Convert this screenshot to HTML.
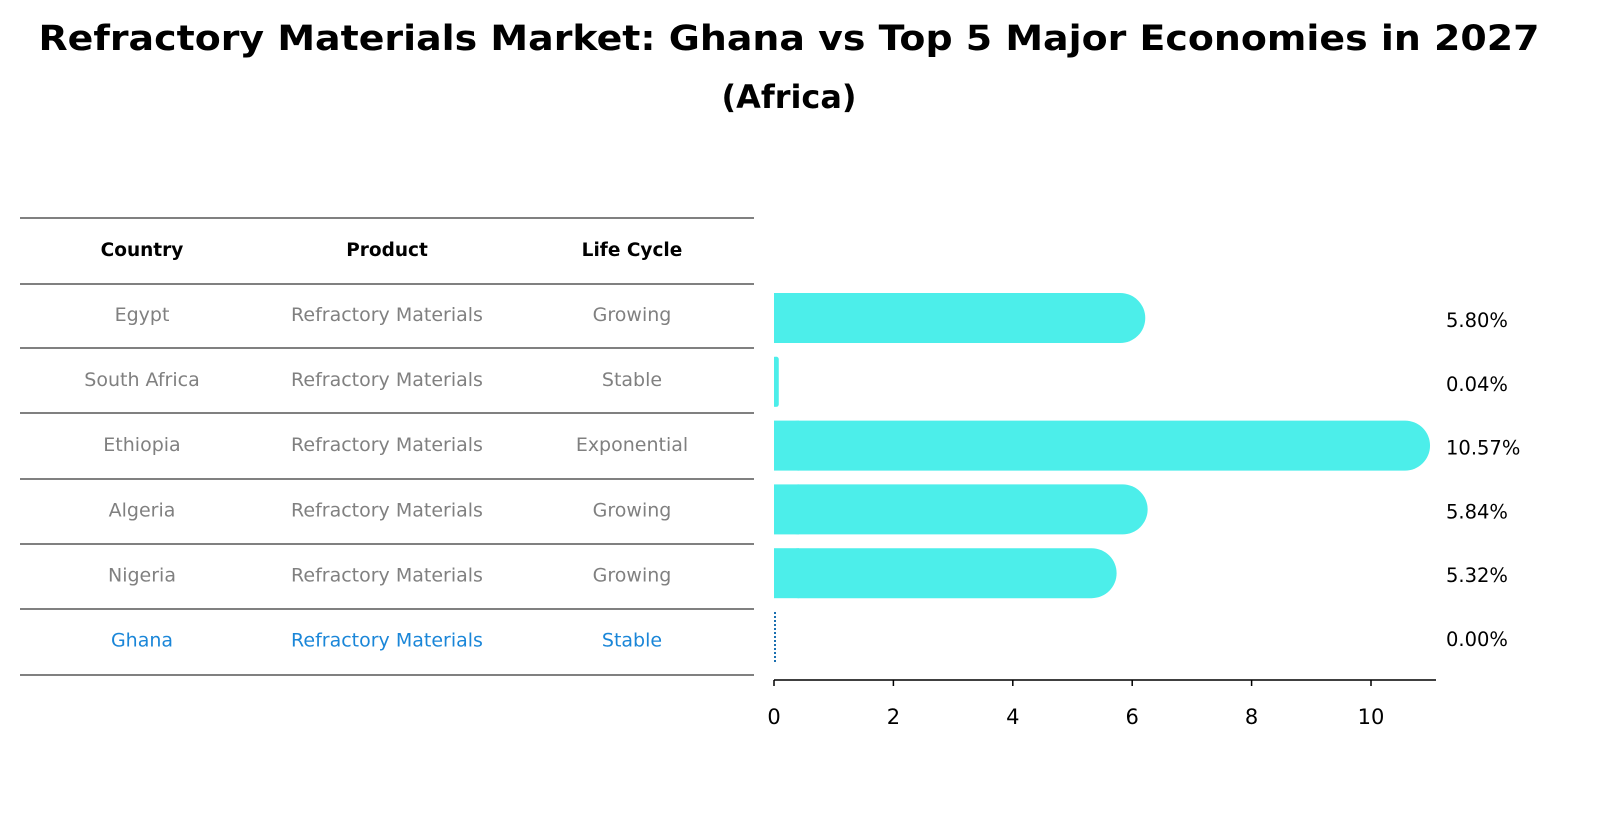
<!DOCTYPE html>
<html><head><meta charset="utf-8"><style>
body{margin:0;background:#fff;font-family:"Liberation Sans","DejaVu Sans",sans-serif;}
#wrap{position:relative;width:1604px;height:823px;overflow:hidden;}
</style></head><body>
<div id="wrap">
<svg id="svg" width="1604" height="823" xmlns="http://www.w3.org/2000/svg" font-family="DejaVu Sans, Liberation Sans, sans-serif">
<text x="789" y="50" text-anchor="middle" font-size="35" font-weight="bold" textLength="1501" lengthAdjust="spacingAndGlyphs">Refractory Materials Market: Ghana vs Top 5 Major Economies in 2027</text>
<text x="789" y="108" text-anchor="middle" font-size="32" font-weight="bold" textLength="135" lengthAdjust="spacingAndGlyphs">(Africa)</text>
<g id="table"></g>
<g id="bars"></g>
<g id="axis"></g>
</svg>
</div>
<script>
const countries=["Egypt","South Africa","Ethiopia","Algeria","Nigeria","Ghana"];
const products=["Refractory Materials","Refractory Materials","Refractory Materials","Refractory Materials","Refractory Materials","Refractory Materials"];
const lifeCycles=["Growing","Stable","Exponential","Growing","Growing","Stable"];
const values=[5.80,0.04,10.57,5.84,5.32,0.00];
const valueLabels=["5.80%","0.04%","10.57%","5.84%","5.32%","0.00%"];
const ticks=[0,2,4,6,8,10];

const NS="http://www.w3.org/2000/svg";
function mk(tag,attrs,parent,text){const e=document.createElementNS(NS,tag);for(const k in attrs)e.setAttribute(k,attrs[k]);if(text!==undefined)e.textContent=text;parent.appendChild(e);return e;}
const x=v=>774+v*59.7;
const rowY=i=>318+i*63.8;

const tbl=document.getElementById('table');
const lineYs=[218,284,348,413,479,544,609,675];
lineYs.forEach(y=>{const l=mk('line',{x1:20,x2:754,y1:y,y2:y,stroke:'#000','stroke-width':1},tbl);

});
const colX=[142,387,632];
["Country","Product","Life Cycle"].forEach((h,j)=>{const t=mk('text',{x:colX[j],y:256,'text-anchor':'middle','font-size':18.5,'font-weight':'bold'},tbl,h);

});
countries.forEach((c,i)=>{
  const y=321+i*65.1;const col=i===countries.length-1?'#1a86d8':'#808080';
  [c,products[i],lifeCycles[i]].forEach((v,j)=>{const t=mk('text',{x:colX[j],y:y,'text-anchor':'middle','font-size':19,fill:col},tbl,v);
  
  });
});

const bars=document.getElementById('bars');
values.forEach((v,i)=>{
  const cy=rowY(i);
  if(i===values.length-1){
    const l=mk('line',{x1:x(v)+1,x2:x(v)+1,y1:cy-25,y2:cy+25,stroke:'#1a6fb0','stroke-width':2,'stroke-dasharray':'2,2'},bars);
    
    
  } else {
    const w=(x(v)-x(0));const ext=Math.min(25,w);
    const r=mk('rect',{x:x(0),y:cy-25,width:w+ext,height:50,rx:Math.min(25,(w+ext)/2),fill:'#4ceeea'},bars);
    
    
    mk('rect',{x:x(0),y:cy-25,width:Math.min(25,(w+ext)/2),height:50,fill:'#4ceeea'},bars);
  }
  const t=mk('text',{x:1446,y:cy+9,'font-size':19.5},bars,valueLabels[i]);
  
  
});

const ax=document.getElementById('axis');
mk('line',{x1:774,x2:1436,y1:680,y2:680,stroke:'#000','stroke-width':1.5},ax);
ticks.forEach(t=>{
  mk('line',{x1:x(t),x2:x(t),y1:680,y2:686,stroke:'#000','stroke-width':1.5},ax);
  const e=mk('text',{x:x(t),y:724,'text-anchor':'middle','font-size':21},ax,String(t));
  
  
});
</script>
</body></html>
